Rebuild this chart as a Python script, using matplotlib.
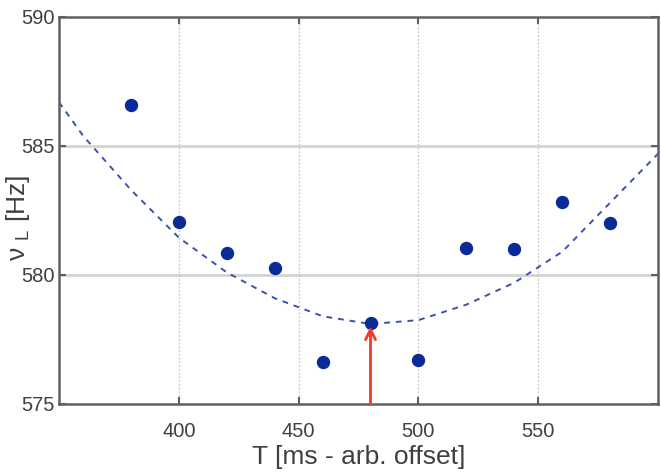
import matplotlib
matplotlib.use("Agg")
import matplotlib.pyplot as plt

plt.rcParams['font.family'] = ['Liberation Sans', 'DejaVu Sans']
plt.rcParams['mathtext.default'] = 'regular'

# data
T_points = [380, 400, 420, 440, 460, 480, 500, 520, 540, 560, 580]
nu_points = [586.6, 582.05, 580.85, 580.28, 576.64, 578.15, 576.7, 581.05, 581.02, 582.83, 582.0]

T_fit = [350, 360, 380, 400, 420, 440, 460, 480, 500, 520, 540, 560, 580, 600]
nu_fit = [586.7, 585.4, 583.3, 581.45, 580.1, 579.1, 578.4, 578.1, 578.25, 578.85, 579.7, 580.9, 582.8, 584.7]

arrow_T = 480
arrow_nu = 578.0

xticks = [400, 450, 500, 550]
yticks = [575, 580, 585, 590]

fig = plt.figure(figsize=(6.61, 4.76), dpi=100)
ax = fig.add_axes([0.0893, 0.1513, 0.9062, 0.813])

ax.set_xlim(350, 600)
ax.set_ylim(575, 590)

# grids
for y in yticks[1:-1]:
    ax.axhline(y, color='#d4d4d4', lw=2, zorder=0)
for x in xticks:
    ax.axvline(x, color='#c8c8c8', lw=0.9, ls=(0, (1.5, 1.5)), zorder=0)

ax.plot(T_fit, nu_fit, ls=(0, (3, 3)), color='#3d52a8', lw=1.4, zorder=2)
ax.plot(T_points, nu_points, 'o', color='#0a2a98', ms=8.6, mec='#0a2a98', zorder=3)

ax.annotate('', xy=(arrow_T, arrow_nu), xytext=(arrow_T, 575),
            arrowprops=dict(arrowstyle='->', color='#f03a2a', lw=2,
                            mutation_scale=18, shrinkA=0, shrinkB=0),
            zorder=4)

ax.set_xticks(xticks)
ax.set_yticks(yticks)
ax.tick_params(direction='in', length=5, width=1.5, color='#606060',
               labelsize=14.5, labelcolor='#404040', top=True, right=True)
ax.tick_params(axis='x', pad=13)
ax.tick_params(axis='y', pad=3)
for s in ax.spines.values():
    s.set_color('#606060')
    s.set_linewidth(1.8)

ax.set_xlabel('T [ms - arb. offset]', fontsize=19, color='#404040', labelpad=3)
ax.set_ylabel(r'ν $_{L}$ [Hz]', fontsize=19, color='#404040')
ax.yaxis.set_label_coords(-0.045, 0.48)

fig.savefig('out.png', dpi=100)
